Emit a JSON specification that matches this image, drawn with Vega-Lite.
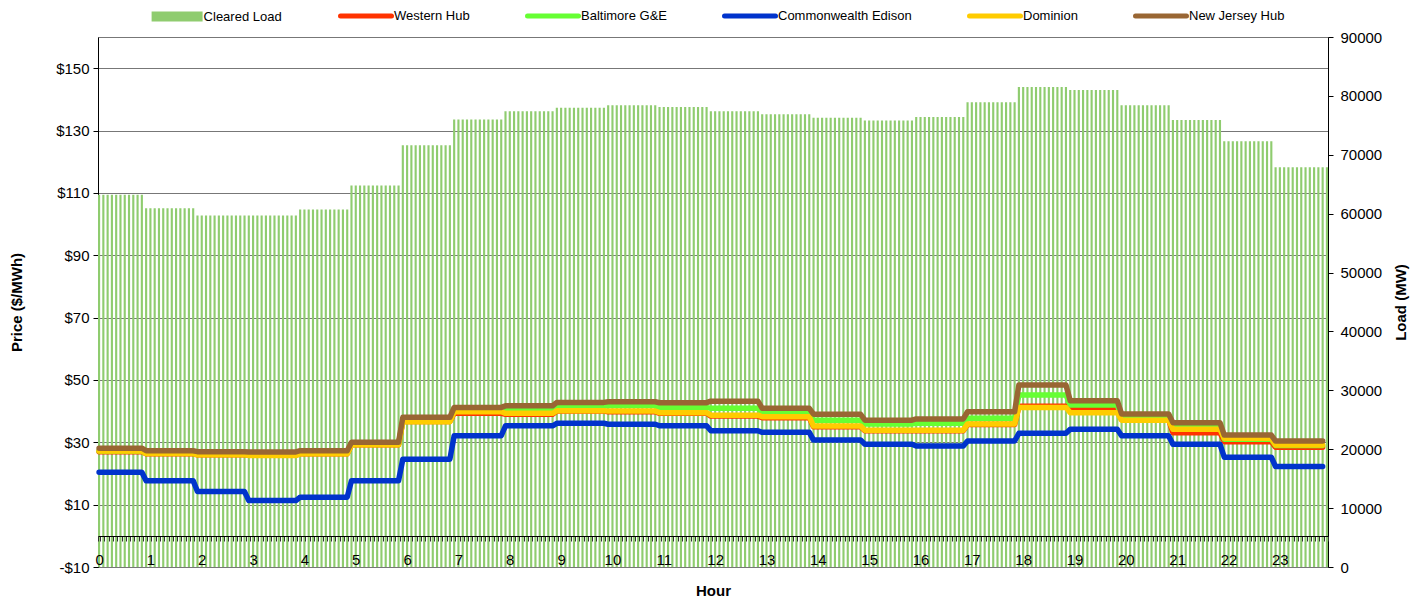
{
"$schema":"https://vega.github.io/schema/vega-lite/v6.json",
"width":1230,"height":530,
"autosize":{"type":"none"},
"padding":{"left":98,"top":37,"right":93,"bottom":34},
"background":"white",
"datasets":{
"load":[
{"i":0,"load":63200},{"i":1,"load":63200},{"i":2,"load":63200},{"i":3,"load":63200},{"i":4,"load":63200},{"i":5,"load":63200},{"i":6,"load":63200},{"i":7,"load":63200},{"i":8,"load":63200},{"i":9,"load":63200},{"i":10,"load":63200},
{"i":11,"load":60900},{"i":12,"load":60900},{"i":13,"load":60900},{"i":14,"load":60900},{"i":15,"load":60900},{"i":16,"load":60900},{"i":17,"load":60900},{"i":18,"load":60900},{"i":19,"load":60900},{"i":20,"load":60900},{"i":21,"load":60900},{"i":22,"load":60900},
{"i":23,"load":59700},{"i":24,"load":59700},{"i":25,"load":59700},{"i":26,"load":59700},{"i":27,"load":59700},{"i":28,"load":59700},{"i":29,"load":59700},{"i":30,"load":59700},{"i":31,"load":59700},{"i":32,"load":59700},{"i":33,"load":59700},{"i":34,"load":59700},
{"i":35,"load":59700},{"i":36,"load":59700},{"i":37,"load":59700},{"i":38,"load":59700},{"i":39,"load":59700},{"i":40,"load":59700},{"i":41,"load":59700},{"i":42,"load":59700},{"i":43,"load":59700},{"i":44,"load":59700},{"i":45,"load":59700},{"i":46,"load":59700},
{"i":47,"load":60700},{"i":48,"load":60700},{"i":49,"load":60700},{"i":50,"load":60700},{"i":51,"load":60700},{"i":52,"load":60700},{"i":53,"load":60700},{"i":54,"load":60700},{"i":55,"load":60700},{"i":56,"load":60700},{"i":57,"load":60700},{"i":58,"load":60700},
{"i":59,"load":64800},{"i":60,"load":64800},{"i":61,"load":64800},{"i":62,"load":64800},{"i":63,"load":64800},{"i":64,"load":64800},{"i":65,"load":64800},{"i":66,"load":64800},{"i":67,"load":64800},{"i":68,"load":64800},{"i":69,"load":64800},{"i":70,"load":64800},
{"i":71,"load":71600},{"i":72,"load":71600},{"i":73,"load":71600},{"i":74,"load":71600},{"i":75,"load":71600},{"i":76,"load":71600},{"i":77,"load":71600},{"i":78,"load":71600},{"i":79,"load":71600},{"i":80,"load":71600},{"i":81,"load":71600},{"i":82,"load":71600},
{"i":83,"load":76000},{"i":84,"load":76000},{"i":85,"load":76000},{"i":86,"load":76000},{"i":87,"load":76000},{"i":88,"load":76000},{"i":89,"load":76000},{"i":90,"load":76000},{"i":91,"load":76000},{"i":92,"load":76000},{"i":93,"load":76000},{"i":94,"load":76000},
{"i":95,"load":77400},{"i":96,"load":77400},{"i":97,"load":77400},{"i":98,"load":77400},{"i":99,"load":77400},{"i":100,"load":77400},{"i":101,"load":77400},{"i":102,"load":77400},{"i":103,"load":77400},{"i":104,"load":77400},{"i":105,"load":77400},{"i":106,"load":77400},
{"i":107,"load":78000},{"i":108,"load":78000},{"i":109,"load":78000},{"i":110,"load":78000},{"i":111,"load":78000},{"i":112,"load":78000},{"i":113,"load":78000},{"i":114,"load":78000},{"i":115,"load":78000},{"i":116,"load":78000},{"i":117,"load":78000},{"i":118,"load":78000},
{"i":119,"load":78400},{"i":120,"load":78400},{"i":121,"load":78400},{"i":122,"load":78400},{"i":123,"load":78400},{"i":124,"load":78400},{"i":125,"load":78400},{"i":126,"load":78400},{"i":127,"load":78400},{"i":128,"load":78400},{"i":129,"load":78400},{"i":130,"load":78400},
{"i":131,"load":78100},{"i":132,"load":78100},{"i":133,"load":78100},{"i":134,"load":78100},{"i":135,"load":78100},{"i":136,"load":78100},{"i":137,"load":78100},{"i":138,"load":78100},{"i":139,"load":78100},{"i":140,"load":78100},{"i":141,"load":78100},{"i":142,"load":78100},
{"i":143,"load":77400},{"i":144,"load":77400},{"i":145,"load":77400},{"i":146,"load":77400},{"i":147,"load":77400},{"i":148,"load":77400},{"i":149,"load":77400},{"i":150,"load":77400},{"i":151,"load":77400},{"i":152,"load":77400},{"i":153,"load":77400},{"i":154,"load":77400},
{"i":155,"load":76900},{"i":156,"load":76900},{"i":157,"load":76900},{"i":158,"load":76900},{"i":159,"load":76900},{"i":160,"load":76900},{"i":161,"load":76900},{"i":162,"load":76900},{"i":163,"load":76900},{"i":164,"load":76900},{"i":165,"load":76900},{"i":166,"load":76900},
{"i":167,"load":76300},{"i":168,"load":76300},{"i":169,"load":76300},{"i":170,"load":76300},{"i":171,"load":76300},{"i":172,"load":76300},{"i":173,"load":76300},{"i":174,"load":76300},{"i":175,"load":76300},{"i":176,"load":76300},{"i":177,"load":76300},{"i":178,"load":76300},
{"i":179,"load":75800},{"i":180,"load":75800},{"i":181,"load":75800},{"i":182,"load":75800},{"i":183,"load":75800},{"i":184,"load":75800},{"i":185,"load":75800},{"i":186,"load":75800},{"i":187,"load":75800},{"i":188,"load":75800},{"i":189,"load":75800},{"i":190,"load":75800},
{"i":191,"load":76400},{"i":192,"load":76400},{"i":193,"load":76400},{"i":194,"load":76400},{"i":195,"load":76400},{"i":196,"load":76400},{"i":197,"load":76400},{"i":198,"load":76400},{"i":199,"load":76400},{"i":200,"load":76400},{"i":201,"load":76400},{"i":202,"load":76400},
{"i":203,"load":78900},{"i":204,"load":78900},{"i":205,"load":78900},{"i":206,"load":78900},{"i":207,"load":78900},{"i":208,"load":78900},{"i":209,"load":78900},{"i":210,"load":78900},{"i":211,"load":78900},{"i":212,"load":78900},{"i":213,"load":78900},{"i":214,"load":78900},
{"i":215,"load":81500},{"i":216,"load":81500},{"i":217,"load":81500},{"i":218,"load":81500},{"i":219,"load":81500},{"i":220,"load":81500},{"i":221,"load":81500},{"i":222,"load":81500},{"i":223,"load":81500},{"i":224,"load":81500},{"i":225,"load":81500},{"i":226,"load":81500},
{"i":227,"load":81000},{"i":228,"load":81000},{"i":229,"load":81000},{"i":230,"load":81000},{"i":231,"load":81000},{"i":232,"load":81000},{"i":233,"load":81000},{"i":234,"load":81000},{"i":235,"load":81000},{"i":236,"load":81000},{"i":237,"load":81000},{"i":238,"load":81000},
{"i":239,"load":78400},{"i":240,"load":78400},{"i":241,"load":78400},{"i":242,"load":78400},{"i":243,"load":78400},{"i":244,"load":78400},{"i":245,"load":78400},{"i":246,"load":78400},{"i":247,"load":78400},{"i":248,"load":78400},{"i":249,"load":78400},{"i":250,"load":78400},
{"i":251,"load":75900},{"i":252,"load":75900},{"i":253,"load":75900},{"i":254,"load":75900},{"i":255,"load":75900},{"i":256,"load":75900},{"i":257,"load":75900},{"i":258,"load":75900},{"i":259,"load":75900},{"i":260,"load":75900},{"i":261,"load":75900},{"i":262,"load":75900},
{"i":263,"load":72300},{"i":264,"load":72300},{"i":265,"load":72300},{"i":266,"load":72300},{"i":267,"load":72300},{"i":268,"load":72300},{"i":269,"load":72300},{"i":270,"load":72300},{"i":271,"load":72300},{"i":272,"load":72300},{"i":273,"load":72300},{"i":274,"load":72300},
{"i":275,"load":67900},{"i":276,"load":67900},{"i":277,"load":67900},{"i":278,"load":67900},{"i":279,"load":67900},{"i":280,"load":67900},{"i":281,"load":67900},{"i":282,"load":67900},{"i":283,"load":67900},{"i":284,"load":67900},{"i":285,"load":67900},{"i":286,"load":67900},{"i":287,"load":67900}
],
"price":[
{"i":0,"Western Hub":27.0,"Baltimore G&E":27.2,"Commonwealth Edison":20.4,"Dominion":27.2,"New Jersey Hub":28.1},
{"i":10,"Western Hub":27.0,"Baltimore G&E":27.2,"Commonwealth Edison":20.4,"Dominion":27.2,"New Jersey Hub":28.1},
{"i":11,"Western Hub":26.3,"Baltimore G&E":26.5,"Commonwealth Edison":17.7,"Dominion":26.4,"New Jersey Hub":27.3},
{"i":22,"Western Hub":26.3,"Baltimore G&E":26.5,"Commonwealth Edison":17.7,"Dominion":26.4,"New Jersey Hub":27.3},
{"i":23,"Western Hub":26.0,"Baltimore G&E":26.2,"Commonwealth Edison":14.2,"Dominion":26.0,"New Jersey Hub":27.0},
{"i":34,"Western Hub":26.0,"Baltimore G&E":26.2,"Commonwealth Edison":14.2,"Dominion":26.0,"New Jersey Hub":27.0},
{"i":35,"Western Hub":25.9,"Baltimore G&E":26.0,"Commonwealth Edison":11.3,"Dominion":25.8,"New Jersey Hub":26.9},
{"i":46,"Western Hub":25.9,"Baltimore G&E":26.0,"Commonwealth Edison":11.3,"Dominion":25.8,"New Jersey Hub":26.9},
{"i":47,"Western Hub":26.3,"Baltimore G&E":26.5,"Commonwealth Edison":12.4,"Dominion":26.3,"New Jersey Hub":27.3},
{"i":58,"Western Hub":26.3,"Baltimore G&E":26.5,"Commonwealth Edison":12.4,"Dominion":26.3,"New Jersey Hub":27.3},
{"i":59,"Western Hub":29.2,"Baltimore G&E":29.4,"Commonwealth Edison":17.7,"Dominion":29.2,"New Jersey Hub":30.0},
{"i":70,"Western Hub":29.2,"Baltimore G&E":29.4,"Commonwealth Edison":17.7,"Dominion":29.2,"New Jersey Hub":30.0},
{"i":71,"Western Hub":36.7,"Baltimore G&E":37.0,"Commonwealth Edison":24.6,"Dominion":36.6,"New Jersey Hub":38.0},
{"i":82,"Western Hub":36.7,"Baltimore G&E":37.0,"Commonwealth Edison":24.6,"Dominion":36.6,"New Jersey Hub":38.0},
{"i":83,"Western Hub":39.3,"Baltimore G&E":40.0,"Commonwealth Edison":32.1,"Dominion":39.8,"New Jersey Hub":41.2},
{"i":94,"Western Hub":39.3,"Baltimore G&E":40.0,"Commonwealth Edison":32.1,"Dominion":39.8,"New Jersey Hub":41.2},
{"i":95,"Western Hub":39.0,"Baltimore G&E":40.6,"Commonwealth Edison":35.3,"Dominion":39.3,"New Jersey Hub":41.7},
{"i":106,"Western Hub":39.0,"Baltimore G&E":40.6,"Commonwealth Edison":35.3,"Dominion":39.3,"New Jersey Hub":41.7},
{"i":107,"Western Hub":40.0,"Baltimore G&E":41.6,"Commonwealth Edison":36.1,"Dominion":40.1,"New Jersey Hub":42.8},
{"i":118,"Western Hub":40.0,"Baltimore G&E":41.6,"Commonwealth Edison":36.1,"Dominion":40.1,"New Jersey Hub":42.8},
{"i":119,"Western Hub":39.8,"Baltimore G&E":41.8,"Commonwealth Edison":35.8,"Dominion":40.0,"New Jersey Hub":43.0},
{"i":130,"Western Hub":39.8,"Baltimore G&E":41.8,"Commonwealth Edison":35.8,"Dominion":40.0,"New Jersey Hub":43.0},
{"i":131,"Western Hub":39.3,"Baltimore G&E":41.2,"Commonwealth Edison":35.3,"Dominion":39.5,"New Jersey Hub":42.7},
{"i":142,"Western Hub":39.3,"Baltimore G&E":41.2,"Commonwealth Edison":35.3,"Dominion":39.5,"New Jersey Hub":42.7},
{"i":143,"Western Hub":38.4,"Baltimore G&E":40.9,"Commonwealth Edison":33.7,"Dominion":38.7,"New Jersey Hub":43.2},
{"i":154,"Western Hub":38.4,"Baltimore G&E":40.9,"Commonwealth Edison":33.7,"Dominion":38.7,"New Jersey Hub":43.2},
{"i":155,"Western Hub":37.9,"Baltimore G&E":39.6,"Commonwealth Edison":33.2,"Dominion":38.2,"New Jersey Hub":40.9},
{"i":166,"Western Hub":37.9,"Baltimore G&E":39.6,"Commonwealth Edison":33.2,"Dominion":38.2,"New Jersey Hub":40.9},
{"i":167,"Western Hub":35.0,"Baltimore G&E":37.1,"Commonwealth Edison":30.7,"Dominion":35.2,"New Jersey Hub":39.0},
{"i":178,"Western Hub":35.0,"Baltimore G&E":37.1,"Commonwealth Edison":30.7,"Dominion":35.2,"New Jersey Hub":39.0},
{"i":179,"Western Hub":33.7,"Baltimore G&E":35.9,"Commonwealth Edison":29.4,"Dominion":33.9,"New Jersey Hub":37.1},
{"i":190,"Western Hub":33.7,"Baltimore G&E":35.9,"Commonwealth Edison":29.4,"Dominion":33.9,"New Jersey Hub":37.1},
{"i":191,"Western Hub":33.7,"Baltimore G&E":36.1,"Commonwealth Edison":28.8,"Dominion":33.9,"New Jersey Hub":37.5},
{"i":202,"Western Hub":33.7,"Baltimore G&E":36.1,"Commonwealth Edison":28.8,"Dominion":33.9,"New Jersey Hub":37.5},
{"i":203,"Western Hub":35.7,"Baltimore G&E":37.7,"Commonwealth Edison":30.4,"Dominion":35.9,"New Jersey Hub":39.8},
{"i":214,"Western Hub":35.7,"Baltimore G&E":37.7,"Commonwealth Edison":30.4,"Dominion":35.9,"New Jersey Hub":39.8},
{"i":215,"Western Hub":41.6,"Baltimore G&E":45.2,"Commonwealth Edison":32.9,"Dominion":41.2,"New Jersey Hub":48.4},
{"i":226,"Western Hub":41.6,"Baltimore G&E":45.2,"Commonwealth Edison":32.9,"Dominion":41.2,"New Jersey Hub":48.4},
{"i":227,"Western Hub":40.4,"Baltimore G&E":42.0,"Commonwealth Edison":34.2,"Dominion":39.5,"New Jersey Hub":43.3},
{"i":238,"Western Hub":40.4,"Baltimore G&E":42.0,"Commonwealth Edison":34.2,"Dominion":39.5,"New Jersey Hub":43.3},
{"i":239,"Western Hub":37.3,"Baltimore G&E":38.0,"Commonwealth Edison":32.1,"Dominion":37.1,"New Jersey Hub":39.1},
{"i":250,"Western Hub":37.3,"Baltimore G&E":38.0,"Commonwealth Edison":32.1,"Dominion":37.1,"New Jersey Hub":39.1},
{"i":251,"Western Hub":33.1,"Baltimore G&E":35.0,"Commonwealth Edison":29.4,"Dominion":34.2,"New Jersey Hub":36.3},
{"i":262,"Western Hub":33.1,"Baltimore G&E":35.0,"Commonwealth Edison":29.4,"Dominion":34.2,"New Jersey Hub":36.3},
{"i":263,"Western Hub":30.2,"Baltimore G&E":31.0,"Commonwealth Edison":25.2,"Dominion":31.3,"New Jersey Hub":32.3},
{"i":274,"Western Hub":30.2,"Baltimore G&E":31.0,"Commonwealth Edison":25.2,"Dominion":31.3,"New Jersey Hub":32.3},
{"i":275,"Western Hub":28.4,"Baltimore G&E":29.0,"Commonwealth Edison":22.2,"Dominion":29.1,"New Jersey Hub":30.4},
{"i":286,"Western Hub":28.4,"Baltimore G&E":29.0,"Commonwealth Edison":22.2,"Dominion":29.1,"New Jersey Hub":30.4}
]
},
"layer":[
{
"data":{"name":"load"},
"mark":{"type":"bar"},
"encoding":{
"x":{"field":"i","type":"ordinal","sort":"ascending","scale":{"paddingInner":0.5,"paddingOuter":0},
"axis":{"title":"Hour","offset":-31,"zindex":1,"labelExpr":"datum.value % 12 === 0 ? '' + (datum.value / 12) : ''","labelOverlap":false,"labelAngle":0,"labelBaseline":"top","labelPadding":11,"labelFontSize":15,"tickSize":5,"tickBand":"extent","tickColor":"#333","domainColor":"#000","titlePadding":16}},
"y":{"field":"load","type":"quantitative","scale":{"domain":[0,90000],"nice":false,"zero":true},
"axis":{"orient":"right","title":"Load (MW)","values":[0,10000,20000,30000,40000,50000,60000,70000,80000,90000],"format":"d","grid":false,"tickSize":5,"labelPadding":7,"titleAngle":270,"titlePadding":27}},
"fill":{"datum":"Cleared Load","type":"nominal","scale":{"domain":["Cleared Load"],"range":["#8FCC6F"]},
"legend":{"title":null,"orient":"none","legendX":53.6,"legendY":-46,"symbolType":"M-1,-0.2H1V0.2H-1Z","symbolSize":2601,"symbolStrokeWidth":0,"symbolOpacity":1,"labelOffset":1,"padding":0}}
}
},
{
"data":{"name":"price"},
"transform":[{"fold":["Western Hub","Baltimore G&E","Commonwealth Edison","Dominion","New Jersey Hub"],"as":["series","p"]}],
"mark":{"type":"line","strokeWidth":5.5,"strokeCap":"round","strokeJoin":"round","interpolate":"linear"},
"encoding":{
"x":{"field":"i","type":"ordinal","sort":"ascending"},
"y":{"field":"p","type":"quantitative","scale":{"domain":[-10,160],"nice":false,"zero":false},
"axis":{"orient":"left","title":"Price ($/MWh)","values":[-10,10,30,50,70,90,110,130,150],"labelExpr":"datum.value < 0 ? '-$' + abs(datum.value) : '$' + datum.value","grid":true,"tickSize":5,"labelPadding":4,"titlePadding":31}},
"stroke":{"field":"series","type":"nominal","scale":{"domain":["Western Hub","Baltimore G&E","Commonwealth Edison","Dominion","New Jersey Hub"],"range":["#FF3300","#66FF33","#0033CC","#FFCC00","#996633"]},
"legend":{"title":null,"orient":"none","direction":"horizontal","legendX":240,"legendY":-49,"symbolType":"stroke","symbolSize":2601,"symbolStrokeWidth":5,"labelOffset":0,"columnPadding":47,"padding":0,
"encode":{"symbols":{"update":{"strokeCap":{"value":"round"}}}}}}
}
}
],
"resolve":{"scale":{"y":"independent"}},
"config":{
"font":"Liberation Sans",
"view":{"stroke":"#777","strokeWidth":1},
"axis":{"labelColor":"#000","titleColor":"#000","domainColor":"#000","tickColor":"#000","labelFontSize":15,"titleFontSize":15,"titleFontWeight":"bold","gridColor":"#777","gridWidth":1,"labelFont":"Liberation Sans","titleFont":"Liberation Sans"},
"legend":{"labelFontSize":13,"labelColor":"#000","labelFont":"Liberation Sans","padding":0}
}
}
